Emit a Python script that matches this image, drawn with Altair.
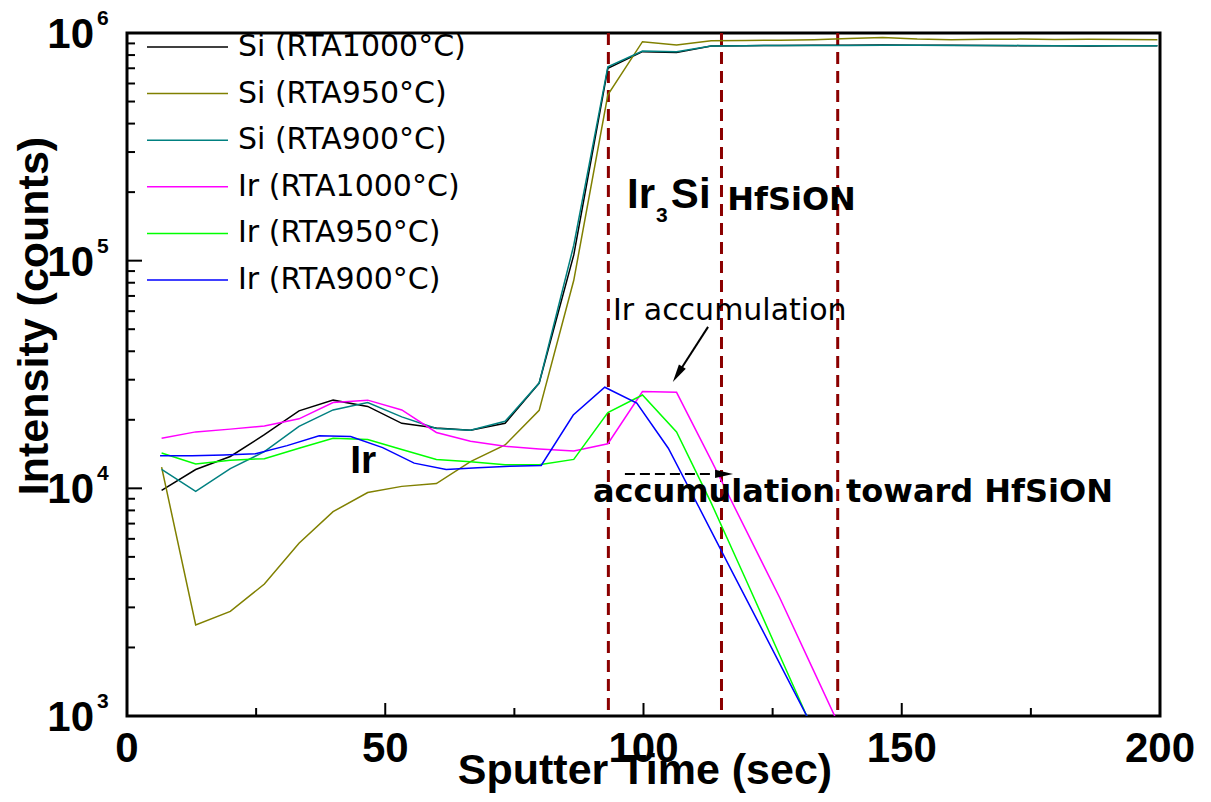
import altair as alt
import pandas as pd

# ---------------- data ----------------
series_names = ["Si (RTA1000°C)", "Si (RTA950°C)", "Si (RTA900°C)",
                "Ir (RTA1000°C)", "Ir (RTA950°C)", "Ir (RTA900°C)"]
series_colors = ["#000000", "#808000", "#008080", "#FF00FF", "#00FF00", "#0000FF"]

t_grid = [6.7, 13.3, 20.0, 26.6, 33.3, 39.9, 46.6, 53.2, 59.9, 66.5, 73.2, 79.8, 86.5, 93.1, 99.8,
          106.4, 113.1, 119.7, 126.4, 133.0, 139.7, 146.3, 153.0, 159.6, 166.3, 172.9, 179.6, 186.2,
          192.9, 199.5]
t_ir900 = [6.4, 12.6, 18.7, 24.9, 31.0, 37.2, 43.3, 49.5, 55.6, 61.8, 67.9, 74.1, 80.2, 86.4, 92.5,
           98.7, 104.8, 111.0, 117.1, 123.3, 129.4, 135.6]

si_1000 = [9800, 12100, 13800, 17200, 21900, 24400, 22900, 19300, 18400, 18000, 19300, 29000,
           106000, 700000, 828000, 820000, 877000, 880000, 882000, 883000, 884000, 885000, 884000,
           883000, 882000, 880000, 878000, 876000, 878000, 879000]
si_950 = [12400, 2510, 2880, 3800, 5740, 7900, 9580, 10200, 10500, 13100, 15500, 22000, 82000,
          535000, 916000, 886000, 925000, 928000, 930000, 935000, 945000, 955000, 940000, 935000,
          938000, 940000, 936000, 938000, 937000, 935000]
si_900 = [12100, 9700, 12200, 14500, 18700, 22100, 23800, 20600, 18300, 18000, 19700, 29000,
          117000, 711000, 834000, 828000, 877000, 880000, 881000, 882000, 882000, 883000, 883000,
          882000, 882000, 881000, 880000, 880000, 880000, 880000]
ir_1000 = [16600, 17700, 18200, 18800, 20200, 23800, 24400, 22100, 17600, 16100, 15300, 14900,
           14600, 15700, 26600, 26400, 13300, 6650, 3300, 1570, 740]
ir_950 = [14300, 12800, 13300, 13500, 15000, 16600, 16400, 14800, 13400, 13100, 12700, 12700,
          13400, 21500, 25700, 17700, 8630, 4030, 1840, 850]
ir_900 = [13900, 13900, 14000, 14200, 15400, 17000, 16900, 15100, 12900, 12100, 12300, 12500,
          12600, 21000, 27800, 23700, 15000, 8050, 4330, 2320, 1250, 670]

boundary_times = [93.2, 115.1, 137.6]

x_major = [0, 50, 100, 150, 200]
x_major_text = ["0", "50", "100", "150", "200"]
x_minor = [25, 75, 125, 175]
y_major = [1e3, 1e4, 1e5, 1e6]
y_major_exp = ["3", "4", "5", "6"]
y_minor = [m * 10 ** e for e in (3, 4, 5) for m in range(2, 10)]

# ---------------- assemble tables ----------------
rows = []
for name, xs_, ys_ in [
    (series_names[0], t_grid, si_1000),
    (series_names[1], t_grid, si_950),
    (series_names[2], t_grid, si_900),
    (series_names[3], t_grid, ir_1000),
    (series_names[4], t_grid, ir_950),
    (series_names[5], t_ir900, ir_900),
]:
    for xv, yv in zip(xs_, ys_):
        rows.append({"series": name, "x": xv, "y": yv})
df = pd.DataFrame(rows)

W, H = 1033, 683
xs = alt.Scale(domain=[0, 200], nice=False, zero=False)
ys = alt.Scale(type="log", domain=[1000, 1000000], nice=False)
cs = alt.Scale(domain=series_names, range=series_colors)

lines = alt.Chart(df).mark_line(clip=True, strokeWidth=1.5).encode(
    x=alt.X("x:Q", scale=xs, axis=None),
    y=alt.Y("y:Q", scale=ys, axis=None),
    color=alt.Color("series:N", scale=cs, legend=None),
    detail="series:N",
)

vlines = alt.Chart(pd.DataFrame({"x": boundary_times})).mark_rule(
    color="#8B0000", strokeWidth=3, strokeDash=[12, 7]
).encode(x=alt.X("x:Q", scale=xs, axis=None), y=alt.value(0), y2=alt.value(H))

# inward ticks
xt_major = alt.Chart(pd.DataFrame({"x": x_major})).mark_rule(color="black", strokeWidth=2).encode(
    x=alt.X("x:Q", scale=xs, axis=None), y=alt.value(H), y2=alt.value(H - 13))
xt_minor = alt.Chart(pd.DataFrame({"x": x_minor})).mark_rule(color="black", strokeWidth=2).encode(
    x=alt.X("x:Q", scale=xs, axis=None), y=alt.value(H), y2=alt.value(H - 8))
yt_major = alt.Chart(pd.DataFrame({"y": y_major})).mark_rule(color="black", strokeWidth=2).encode(
    y=alt.Y("y:Q", scale=ys, axis=None), x=alt.value(0), x2=alt.value(15))
yt_minor = alt.Chart(pd.DataFrame({"y": y_minor})).mark_rule(color="black", strokeWidth=2).encode(
    y=alt.Y("y:Q", scale=ys, axis=None), x=alt.value(0), x2=alt.value(8))

# x tick labels
xlab = alt.Chart(pd.DataFrame({"x": x_major, "t": x_major_text})).mark_text(
    font="Liberation Sans", fontWeight="bold", fontSize=42, align="center",
    baseline="alphabetic", color="black"
).encode(x=alt.X("x:Q", scale=xs, axis=None), y=alt.value(729), text="t:N")

# y tick labels 10^n
ylab_df = pd.DataFrame({"y": y_major, "base": ["10"] * 4, "exp": y_major_exp})
ylab_base = alt.Chart(ylab_df).mark_text(
    font="Liberation Sans", fontWeight="bold", fontSize=42, align="right",
    baseline="alphabetic", dy=15, color="black"
).encode(y=alt.Y("y:Q", scale=ys, axis=None), x=alt.value(-33), text="base:N")
ylab_exp = alt.Chart(ylab_df).mark_text(
    font="Liberation Sans", fontWeight="bold", fontSize=21, align="left",
    baseline="alphabetic", dy=-8, color="black"
).encode(y=alt.Y("y:Q", scale=ys, axis=None), x=alt.value(-30), text="exp:N")

# axis titles
ytitle = alt.Chart(pd.DataFrame({"t": ["Intensity (counts)"]})).mark_text(
    font="Liberation Sans", fontWeight="bold", fontSize=43, angle=270, align="center",
    baseline="alphabetic", color="black"
).encode(text="t:N", x=alt.value(-79), y=alt.value(283))
xtitle = alt.Chart(pd.DataFrame({"t": ["Sputter Time (sec)"]})).mark_text(
    font="Liberation Sans", fontWeight="bold", fontSize=43, align="center",
    baseline="alphabetic", color="black"
).encode(text="t:N", x=alt.value(518), y=alt.value(751))

# annotations (anchor positions in data units)
def note(text, x, y, size, font="Liberation Sans", weight="bold"):
    return alt.Chart(pd.DataFrame({"t": [text], "x": [x], "y": [y]})).mark_text(
        font=font, fontWeight=weight, fontSize=size, align="left", baseline="alphabetic",
        color="black"
    ).encode(x=alt.X("x:Q", scale=xs, axis=None), y=alt.Y("y:Q", scale=ys, axis=None), text="t:N")

ann_ir = note("Ir", 43.2, 11700, 39)
ann_ir3 = note("Ir", 96.8, 170300, 42)
ann_sub3 = note("3", 102.4, 147900, 21)
ann_si = note("Si", 105.3, 170300, 42)
ann_hf = note("HfSiON", 116.2, 167000, 32, font="DejaVu Sans")
ann_acc = note("Ir accumulation", 94.1, 54900, 30, font="DejaVu Sans", weight="normal")
ann_tow = note("accumulation toward HfSiON", 90.2, 8715, 32, font="DejaVu Sans")

arrow_shape = "M0,-1L0.45,1L-0.45,1Z"
arrow1 = alt.Chart(pd.DataFrame({"x": [112.5], "y": [51200], "x2": [106.6], "y2": [31680]})).mark_rule(
    color="black", strokeWidth=2
).encode(x=alt.X("x:Q", scale=xs, axis=None), y=alt.Y("y:Q", scale=ys, axis=None),
         x2="x2:Q", y2="y2:Q")
head1 = alt.Chart(pd.DataFrame({"x": [106.6], "y": [31680]})).mark_point(
    shape=arrow_shape, size=324, filled=True, color="black", opacity=1, angle=212
).encode(x=alt.X("x:Q", scale=xs, axis=None), y=alt.Y("y:Q", scale=ys, axis=None))

arrow2 = alt.Chart(pd.DataFrame({"x": [96.4], "y": [11570], "x2": [113.8], "y2": [11570]})).mark_rule(
    color="black", strokeWidth=2, strokeDash=[10, 5]
).encode(x=alt.X("x:Q", scale=xs, axis=None), y=alt.Y("y:Q", scale=ys, axis=None),
         x2="x2:Q", y2="y2:Q")
head2 = alt.Chart(pd.DataFrame({"x": [115.6], "y": [11570]})).mark_point(
    shape=arrow_shape, size=324, filled=True, color="black", opacity=1, angle=90
).encode(x=alt.X("x:Q", scale=xs, axis=None), y=alt.Y("y:Q", scale=ys, axis=None))

main = alt.layer(
    vlines, lines, xt_major, xt_minor, yt_major, yt_minor, xlab, ylab_base, ylab_exp,
    ann_ir, ann_ir3, ann_sub3, ann_si, ann_hf, ann_acc, ann_tow,
    arrow1, head1, arrow2, head2, ytitle, xtitle,
)

# legend drawn from the series list, through its own row scale
leg_df = pd.DataFrame({"series": series_names})
leg_y = alt.Y("series:N", scale=alt.Scale(type="point", domain=series_names, range=[14, 247], padding=0),
              axis=None)
leg_lines = alt.Chart(leg_df).mark_rule(strokeWidth=1.5).encode(
    y=leg_y, x=alt.value(20), x2=alt.value(101),
    color=alt.Color("series:N", scale=cs, legend=None))
leg_text = alt.Chart(leg_df).mark_text(
    font="DejaVu Sans", fontSize=30, align="left", baseline="middle", color="black"
).encode(y=leg_y, x=alt.value(111), text="series:N")
legend = alt.layer(leg_lines, leg_text)

chart = alt.layer(main, legend).resolve_scale(y="independent").properties(
    width=W, height=H,
    autosize=alt.AutoSizeParams(type="none"),
    padding={"left": 119, "top": 25, "right": 43, "bottom": 78},
).configure_view(stroke="black", strokeWidth=3)

chart.save("out.html", embed_options={"renderer": "svg", "actions": False})
